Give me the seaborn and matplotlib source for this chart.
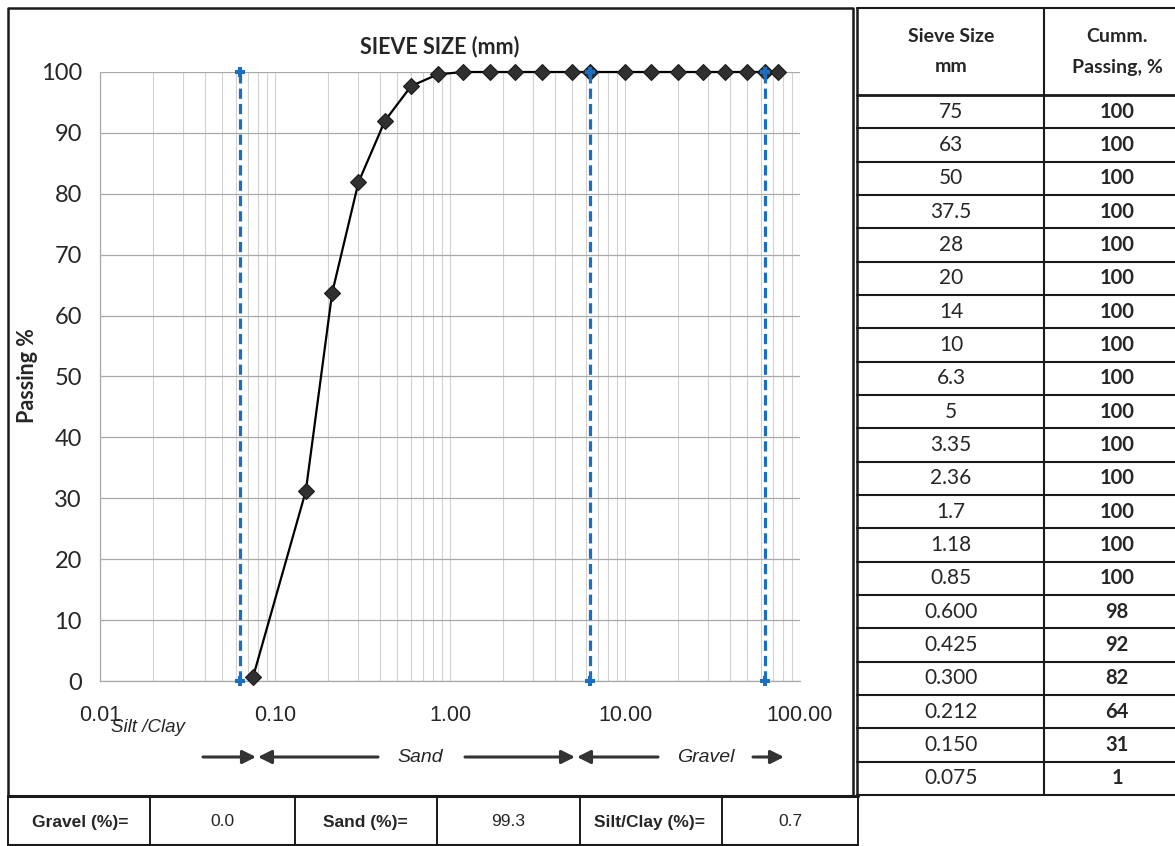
import numpy as np
import pandas as pd
import matplotlib
matplotlib.use("Agg")
import matplotlib.pyplot as plt
import seaborn as sns
from matplotlib.ticker import FixedLocator, LogLocator, MultipleLocator, NullFormatter

# sieve analysis data (table order, coarse to fine)
sieve_labels = ["75", "63", "50", "37.5", "28", "20", "14", "10", "6.3", "5",
                "3.35", "2.36", "1.7", "1.18", "0.85", "0.600", "0.425",
                "0.300", "0.212", "0.150", "0.075"]
sieve_mm = [75, 63, 50, 37.5, 28, 20, 14, 10, 6.3, 5,
            3.35, 2.36, 1.7, 1.18, 0.85, 0.600, 0.425,
            0.300, 0.212, 0.150, 0.075]
passing_pct = [100, 100, 100, 100, 100, 100, 100, 100, 100, 100,
               100, 100, 100, 100, 99.6, 97.7, 92.0,
               81.9, 63.7, 31.2, 0.7]

boundaries_mm = [0.063, 6.3, 63]
x_ticks = [0.01, 0.1, 1, 10, 100]
x_tick_labels = ["0.01", "0.10", "1.00", "10.00", "100.00"]

fraction_names = ["Gravel (%)=", "Sand (%)=", "Silt/Clay (%)="]
fraction_values = ["0.0", "99.3", "0.7"]

df = pd.DataFrame({"size": sieve_mm, "passing": passing_pct})

sns.set_style("white")
plt.rcParams["font.family"] = ["Lato", "DejaVu Sans"]
arial = ["Liberation Sans", "DejaVu Sans"]

W, H = 1175, 846
fig = plt.figure(figsize=(W / 100, H / 100), dpi=100)

# background axes in pixel coordinates for frames / tables
bg = fig.add_axes([0, 0, 1, 1])
bg.set_xlim(0, W)
bg.set_ylim(H, 0)
bg.axis("off")

ax = fig.add_axes([100 / W, 165 / H, 700 / W, 609 / H])
ax.set_xscale("log")
ax.set_xlim(0.01, 100)
ax.set_ylim(0, 100)

sns.lineplot(data=df, x="size", y="passing", ax=ax, color="black", lw=1.6,
             marker="D", markersize=8, markerfacecolor="#303030",
             markeredgecolor="#1a1a1a", markeredgewidth=0.8, zorder=4,
             clip_on=False)

for b in boundaries_mm:
    sns.lineplot(x=[b, b], y=[0, 100], ax=ax, estimator=None, color="#1b6fc2",
                 lw=2.3, linestyle=(0, (3.2, 1.6)), marker="P", markersize=7,
                 markeredgewidth=0, zorder=5, clip_on=False)

ax.xaxis.set_major_locator(FixedLocator(x_ticks))
ax.set_xticklabels(x_tick_labels, family=arial, fontsize=15.5)
ax.xaxis.set_minor_locator(LogLocator(base=10, subs=np.arange(2, 10)))
ax.xaxis.set_minor_formatter(NullFormatter())
ax.yaxis.set_major_locator(MultipleLocator(10))
ax.yaxis.set_minor_locator(MultipleLocator(2))

ax.grid(which="major", axis="y", color="#a9a9a9", lw=0.9)
ax.grid(which="both", axis="x", color="#d2d2d2", lw=0.8)
ax.tick_params(axis="x", which="both", direction="out", length=5,
               color="#a0a0a0", pad=12)
ax.tick_params(axis="y", which="major", length=4, color="#a0a0a0",
               labelsize=17, pad=9)
ax.tick_params(axis="y", which="minor", length=3, color="#b0b0b0")
for s in ["top", "right"]:
    ax.spines[s].set_visible(False)
for s in ["left", "bottom"]:
    ax.spines[s].set_color("#a9a9a9")
    ax.spines[s].set_linewidth(0.9)
ax.set_xlabel("")
ax.set_ylabel("")

# chart titles
bg.text(440, 47, "SIEVE SIZE (mm)", ha="center", va="center",
        fontsize=15.5, fontweight="bold")
bg.text(28, 376, "Passing %", ha="center", va="center", rotation=90,
        fontsize=15.5, fontweight="bold")
bg.text(148, 727, "Silt /Clay", ha="center", va="center", fontsize=13.5,
        style="italic", family=arial)
bg.text(420, 757, "Sand", ha="center", va="center", fontsize=14,
        style="italic", family=arial)
bg.text(706, 757, "Gravel", ha="center", va="center", fontsize=14,
        style="italic", family=arial)

arrow = dict(arrowstyle="-|>", color="#333333", lw=2.2, mutation_scale=20,
             shrinkA=0, shrinkB=0)
for tail, tip in [(203, 256), (378, 258), (465, 575), (658, 577), (753, 784)]:
    bg.annotate("", xy=(tip, 757), xytext=(tail, 757), arrowprops=arrow)

# chart frame
lc = "#1a1a1a"
bg.plot([8, 8, 853, 853], [795, 8, 8, 795], color=lc, lw=1.8)
bg.plot([8, 858], [796, 796], color=lc, lw=2.2)

# bottom summary table
bg.plot([8, 858], [845, 845], color=lc, lw=1.5)
for x in [8, 150, 295, 437, 580, 722, 858]:
    bg.plot([x, x], [796, 846], color=lc, lw=1.4)
cells = [80, 222, 365, 508, 650, 790]
for i in range(3):
    bg.text(cells[2 * i], 822, fraction_names[i], ha="center", va="center",
            fontsize=12.5, fontweight="bold", family=arial)
    bg.text(cells[2 * i + 1], 822, fraction_values[i], ha="center",
            va="center", fontsize=12.5, family=arial)

# right table
tx0, tx1, tx2 = 857, 1044, W + 5
top, head_bot = 8, 95
row_h = (795 - head_bot) / len(sieve_labels)
bg.plot([tx0, tx0], [top, 795], color=lc, lw=1.8)
bg.plot([tx1, tx1], [top, 795], color=lc, lw=1.5)
bg.plot([tx0, tx2], [top, top], color=lc, lw=1.5)
bg.plot([tx0, tx2], [head_bot, head_bot], color=lc, lw=2.0)
bg.text(951, 37, "Sieve Size", ha="center", va="center", fontsize=14,
        fontweight="bold")
bg.text(951, 67, "mm", ha="center", va="center", fontsize=14,
        fontweight="bold")
bg.text(1117, 37, "Cumm.", ha="center", va="center", fontsize=14,
        fontweight="bold")
bg.text(1117, 67, "Passing, %", ha="center", va="center", fontsize=14,
        fontweight="bold")
for i, (lab, val) in enumerate(zip(sieve_labels, passing_pct)):
    y0 = head_bot + i * row_h
    bg.plot([tx0, tx2], [y0 + row_h, y0 + row_h], color=lc, lw=1.5)
    bg.text(951, y0 + row_h / 2, lab, ha="center", va="center", fontsize=15)
    bg.text(1117, y0 + row_h / 2, f"{val:.0f}", ha="center", va="center",
            fontsize=14.5, fontweight="bold")

fig.savefig("out.png", dpi=100)
